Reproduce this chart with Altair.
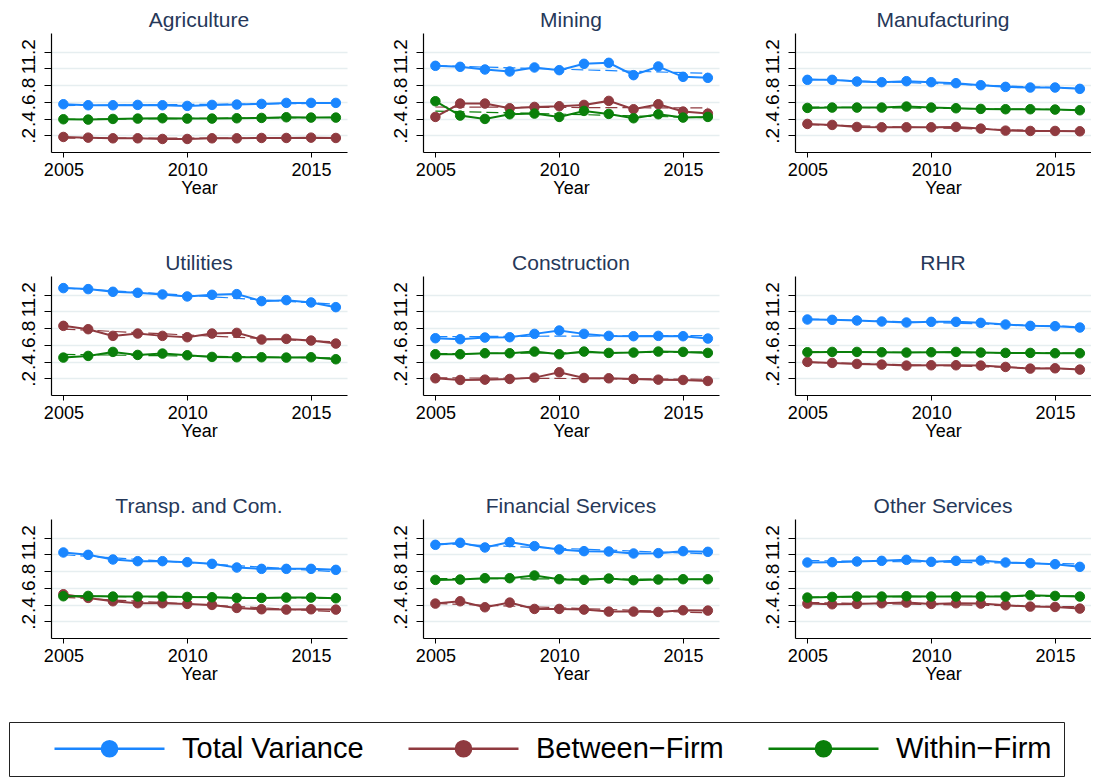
import altair as alt
import pandas as pd

years = list(range(2005, 2017))
sectors = ["Agriculture", "Mining", "Manufacturing", "Utilities", "Construction", "RHR",
           "Transp. and Com.", "Financial Services", "Other Services"]
series_names = ["Total Variance", "Between\u2212Firm", "Within\u2212Firm"]
series_colors = ["#1a86ff", "#8f3a3f", "#0a7f0a"]

# Total variance by sector
total_agriculture = [0.572, 0.56, 0.56, 0.564, 0.56, 0.552, 0.564, 0.568, 0.576, 0.588, 0.588, 0.588]
total_mining = [1.032, 1.02, 0.988, 0.964, 1.012, 0.98, 1.056, 1.068, 0.92, 1.024, 0.9, 0.888]
total_manufacturing = [0.864, 0.864, 0.844, 0.836, 0.848, 0.836, 0.824, 0.8, 0.78, 0.772, 0.772, 0.756]
total_utilities = [1.28, 1.268, 1.236, 1.224, 1.204, 1.18, 1.2, 1.208, 1.124, 1.136, 1.108, 1.052]
total_construction = [0.68, 0.668, 0.688, 0.692, 0.732, 0.772, 0.732, 0.708, 0.704, 0.708, 0.704, 0.676]
total_rhr = [0.904, 0.9, 0.892, 0.88, 0.868, 0.876, 0.876, 0.864, 0.844, 0.828, 0.824, 0.808]
total_transp = [1.024, 0.996, 0.94, 0.92, 0.92, 0.908, 0.888, 0.844, 0.828, 0.828, 0.828, 0.816]
total_financial = [1.116, 1.14, 1.084, 1.148, 1.1, 1.06, 1.04, 1.036, 1.012, 1.016, 1.04, 1.032]
total_other = [0.904, 0.908, 0.916, 0.924, 0.936, 0.912, 0.924, 0.928, 0.904, 0.896, 0.884, 0.852]

# Between-firm by sector
between_agriculture = [0.18, 0.172, 0.164, 0.164, 0.156, 0.156, 0.164, 0.164, 0.168, 0.168, 0.172, 0.168]
between_mining = [0.42, 0.58, 0.58, 0.524, 0.54, 0.548, 0.564, 0.612, 0.512, 0.572, 0.484, 0.46]
between_manufacturing = [0.336, 0.324, 0.3, 0.296, 0.296, 0.296, 0.3, 0.28, 0.256, 0.252, 0.252, 0.248]
between_utilities = [0.828, 0.788, 0.708, 0.736, 0.708, 0.692, 0.736, 0.744, 0.664, 0.672, 0.652, 0.616]
between_construction = [0.2, 0.18, 0.184, 0.192, 0.208, 0.272, 0.204, 0.2, 0.192, 0.184, 0.18, 0.168]
between_rhr = [0.396, 0.384, 0.372, 0.364, 0.352, 0.356, 0.356, 0.352, 0.336, 0.316, 0.32, 0.304]
between_transp = [0.524, 0.48, 0.44, 0.416, 0.416, 0.408, 0.396, 0.36, 0.344, 0.34, 0.344, 0.34]
between_financial = [0.412, 0.44, 0.368, 0.424, 0.348, 0.348, 0.34, 0.316, 0.316, 0.312, 0.332, 0.328]
between_other = [0.412, 0.404, 0.408, 0.416, 0.424, 0.408, 0.416, 0.412, 0.392, 0.376, 0.372, 0.352]

# Within-firm by sector
within_agriculture = [0.392, 0.388, 0.396, 0.4, 0.404, 0.4, 0.4, 0.404, 0.408, 0.416, 0.412, 0.412]
within_mining = [0.608, 0.436, 0.396, 0.452, 0.46, 0.42, 0.492, 0.456, 0.404, 0.452, 0.412, 0.42]
within_manufacturing = [0.528, 0.532, 0.532, 0.532, 0.544, 0.532, 0.524, 0.516, 0.512, 0.512, 0.508, 0.5]
within_utilities = [0.448, 0.468, 0.516, 0.48, 0.496, 0.476, 0.456, 0.452, 0.452, 0.448, 0.452, 0.428]
within_construction = [0.488, 0.488, 0.5, 0.5, 0.52, 0.488, 0.52, 0.504, 0.508, 0.52, 0.516, 0.504]
within_rhr = [0.512, 0.516, 0.516, 0.512, 0.508, 0.512, 0.516, 0.508, 0.504, 0.504, 0.5, 0.5]
within_transp = [0.5, 0.504, 0.496, 0.496, 0.496, 0.492, 0.488, 0.48, 0.48, 0.484, 0.484, 0.476]
within_financial = [0.696, 0.7, 0.716, 0.716, 0.748, 0.704, 0.696, 0.712, 0.692, 0.7, 0.704, 0.704]
within_other = [0.484, 0.492, 0.496, 0.496, 0.5, 0.496, 0.496, 0.496, 0.496, 0.512, 0.504, 0.496]

totals = [total_agriculture, total_mining, total_manufacturing, total_utilities, total_construction,
          total_rhr, total_transp, total_financial, total_other]
betweens = [between_agriculture, between_mining, between_manufacturing, between_utilities,
            between_construction, between_rhr, between_transp, between_financial, between_other]
withins = [within_agriculture, within_mining, within_manufacturing, within_utilities,
           within_construction, within_rhr, within_transp, within_financial, within_other]

rows = []
for s, t, b, w in zip(sectors, totals, betweens, withins):
    for name, vals in zip(series_names, [t, b, w]):
        for yr, v in zip(years, vals):
            rows.append({"sector": s, "series": name, "year": yr, "value": v})
df = pd.DataFrame(rows)

FONT = "Liberation Sans"
color_scale = alt.Scale(domain=series_names, range=series_colors)

# legend symbol: a line with a dot in the middle (unit = 8px)
legend_path = ("M2.375,0L16.125,0"
               "M8.3,0A0.95,0.95,0,1,1,10.2,0A0.95,0.95,0,1,1,8.3,0Z")
legend = alt.Legend(
    title=None, orient="none", legendX=-42, legendY=689, direction="horizontal",
    symbolType=legend_path, symbolSize=256, symbolStrokeWidth=2.5,
    labelFontSize=29, labelFont=FONT, labelColor="black", labelOffset=132, labelLimit=600,
    labelExpr="indexof(datum.label, 'Within') >= 0 ? datum.label + '\u00a0\u00a0\u00a0\u00a0' : datum.label",
    columnPadding=11, padding=12, strokeColor="#222222",
)

x_enc = alt.X("year:Q",
              scale=alt.Scale(domain=[2004.5, 2016.45], nice=False, zero=False),
              axis=alt.Axis(values=[2005, 2010, 2015], format="d", title="Year",
                            grid=False, tickSize=5, labelPadding=4,
                            labelFontSize=18, titleFontSize=18, titlePadding=0,
                            titleFontWeight="normal", labelFlush=False))
y_enc = alt.Y("value:Q",
              scale=alt.Scale(domain=[0, 1.425], nice=False, zero=False),
              axis=alt.Axis(values=[0.2, 0.4, 0.6, 0.8, 1.0, 1.2], title=None,
                            labelExpr="datum.value < 1 ? replace(format(datum.value, '.1f'), '0.', '.') : format(datum.value, '~g')",
                            labelAngle=270, labelAlign="center", labelBaseline="bottom",
                            labelOverlap=False, labelFontSize=19, tickSize=7, labelPadding=6,
                            grid=True))

stroke_enc = alt.Stroke("series:N", scale=color_scale, legend=legend)


def panel(name):
    base = alt.Chart(df).transform_filter(alt.datum.sector == name)
    fit = base.transform_regression("year", "value", groupby=["series"]).mark_line(
        strokeDash=[12, 5], strokeWidth=1.2
    ).encode(x=x_enc, y=y_enc, stroke=stroke_enc)
    line = base.mark_line(strokeWidth=2).encode(x=x_enc, y=y_enc, stroke=stroke_enc)
    pts = base.mark_point(filled=True, size=90, opacity=1, strokeWidth=1).encode(
        x=x_enc, y=y_enc,
        fill=alt.Fill("series:N", scale=color_scale, legend=legend),
        stroke=stroke_enc)
    return alt.layer(fit, line, pts).properties(
        width=296, height=119,
        title=alt.TitleParams(name, fontSize=21, color="#263859", font=FONT,
                              fontWeight="normal", offset=2, anchor="middle"))


chart = alt.concat(*[panel(s) for s in sectors], columns=3,
                   spacing={"row": 124, "column": 76}, bounds="flush").properties(
    padding={"left": 0, "top": 2, "right": 0, "bottom": 0},
    background="white",
).configure_view(stroke=None).configure_axis(
    domainColor="black", tickColor="black", labelColor="black", titleColor="black",
    labelFont=FONT, titleFont=FONT, gridColor="#e6eef0", gridWidth=1.5, domainWidth=1.2,
)

chart.save("out.html", embed_options={"renderer": "svg", "actions": False})
